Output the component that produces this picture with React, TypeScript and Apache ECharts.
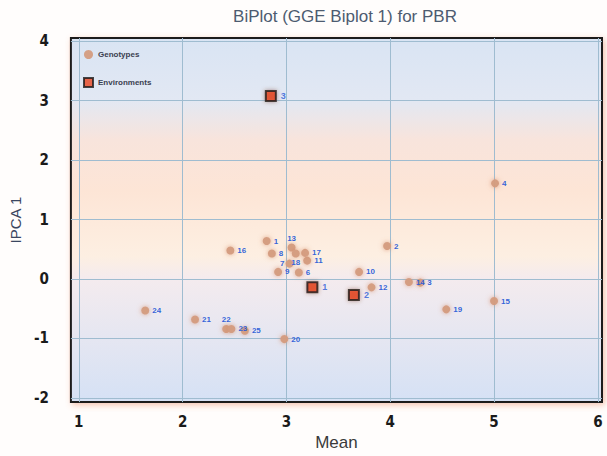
import React, { useEffect, useRef } from "react";
import * as echarts from "echarts";

const titleText = "BiPlot (GGE Biplot 1) for PBR";
const xName = "Mean";
const yName = "IPCA 1";

const xTicks = [1, 2, 3, 4, 5, 6];
const yTicks = [-2, -1, 0, 1, 2, 3, 4];

const genotypeNames = ["1", "2", "3", "4", "6", "7", "8", "9", "10", "11", "12", "13", "14", "15", "16", "17", "18", "19", "20", "21", "22", "23", "24", "25"];
const genotypeMean = [2.81, 3.97, 4.29, 5.01, 3.12, 3.03, 2.86, 2.92, 3.7, 3.2, 3.82, 3.05, 4.18, 5.0, 2.46, 3.18, 3.09, 4.54, 2.98, 2.12, 2.42, 2.47, 1.64, 2.6];
const genotypeIPCA = [0.64, 0.555, -0.06, 1.61, 0.11, 0.26, 0.43, 0.12, 0.12, 0.31, -0.14, 0.53, -0.05, -0.37, 0.48, 0.44, 0.43, -0.51, -1.01, -0.68, -0.84, -0.84, -0.53, -0.87];

const envNames = ["1", "2", "3"];
const envMean = [3.25, 3.65, 2.85];
const envIPCA = [-0.14, -0.27, 3.08];

// labels that would otherwise collide are nudged
const labelNudge: Record<string, string> = { "18": "bottom", "22": "top", "13": "top", "7": "left" };

const FONT = "'Liberation Sans', Arial, sans-serif";
const NARROW = "'Liberation Sans Narrow', 'DejaVu Sans Condensed', Arial, sans-serif";

export default function App() {
  const ref = useRef<HTMLDivElement>(null);
  useEffect(() => {
    if (!ref.current) return;
    const chart = echarts.init(ref.current, null, { renderer: "svg" });
    const genoData = genotypeNames.map((n, i) => {
      const item: any = { value: [genotypeMean[i], genotypeIPCA[i], n] };
      if (labelNudge[n]) item.label = { position: labelNudge[n], distance: 1 };
      return item;
    });
    const envData = envNames.map((n, i) => [envMean[i], envIPCA[i], n]);
    chart.setOption({
      animation: false,
      backgroundColor: "#fffdfc",
      title: {
        text: titleText,
        left: 340,
        textAlign: "center",
        top: 3,
        textStyle: { fontFamily: FONT, fontSize: 17, fontWeight: "normal", color: "#4d5b70" },
      },
      legend: {
        orient: "vertical",
        left: 78,
        top: 45,
        itemWidth: 9,
        itemHeight: 9,
        itemGap: 18,
        textStyle: { fontFamily: FONT, fontSize: 8, color: "#3a4050", fontWeight: "bold" },
        data: [
          { name: "Genotypes", icon: "circle" },
          { name: "Environments", icon: "rect" },
        ],
      },
      grid: {
        left: 68,
        right: 5,
        top: 38,
        bottom: 51,
        show: true,
        borderColor: "#1e1e1e",
        borderWidth: 2,
        shadowBlur: 6,
        shadowColor: "rgba(230,120,80,0.45)",
        shadowOffsetX: 2,
        shadowOffsetY: 2,
        backgroundColor: new echarts.graphic.LinearGradient(0, 0, 0, 1, [
          { offset: 0, color: "#d9e4f3" },
          { offset: 0.17, color: "#e2e8f3" },
          { offset: 0.28, color: "#f8e4dc" },
          { offset: 0.42, color: "#fde5d6" },
          { offset: 0.6, color: "#fdefe2" },
          { offset: 0.66, color: "#f4ebee" },
          { offset: 1, color: "#d5e1f5" },
        ]),
      },
      xAxis: {
        type: "value",
        min: 0.924,
        max: 6.04,
        name: xName,
        nameLocation: "middle",
        nameGap: 30,
        nameTextStyle: { fontFamily: FONT, fontSize: 17, color: "#3a3a3a" },
        axisLine: { show: false },
        axisTick: { show: false, customValues: xTicks },
        axisLabel: {
          customValues: xTicks,
          margin: 12,
          fontFamily: NARROW,
          fontSize: 15,
          fontWeight: "bold",
          color: "#1a1a1a",
        },
        splitLine: { show: true, lineStyle: { color: "#9fbcd0", width: 1 } },
      },
      yAxis: {
        type: "value",
        min: -2.07,
        max: 4.055,
        name: yName,
        nameLocation: "middle",
        nameGap: 36,
        nameTextStyle: { fontFamily: FONT, fontSize: 15, color: "#3a4660" },
        axisLine: { show: false },
        axisTick: { show: false, customValues: yTicks },
        axisLabel: {
          customValues: yTicks,
          margin: 22,
          fontFamily: NARROW,
          fontSize: 15,
          fontWeight: "bold",
          color: "#1a1a1a",
        },
        splitLine: { show: true, lineStyle: { color: "#9fbcd0", width: 1 } },
      },
      series: [
        {
          name: "Genotypes",
          type: "scatter",
          symbol: "circle",
          symbolSize: 8,
          data: genoData,
          itemStyle: {
            color: "#d49c80",
            opacity: 0.95,
            shadowBlur: 5,
            shadowColor: "rgba(210,130,90,0.7)",
          },
          label: {
            show: true,
            position: "right",
            distance: 3,
            formatter: (p: any) => p.data.value[2],
            fontFamily: FONT,
            fontSize: 8,
            fontWeight: "bold",
            color: "#2a5bd7",
          },
          z: 3,
        },
        {
          name: "Environments",
          type: "scatter",
          symbol: "rect",
          symbolSize: 10,
          data: envData,
          itemStyle: {
            color: "#e8441e",
            borderColor: "#1a1a1a",
            borderWidth: 2,
            shadowBlur: 4,
            shadowColor: "rgba(120,60,40,0.6)",
          },
          label: {
            show: true,
            position: "right",
            distance: 4,
            formatter: (p: any) => p.data[2],
            fontFamily: FONT,
            fontSize: 9,
            fontWeight: "bold",
            color: "#2a5bd7",
          },
          z: 4,
        },
      ],
    });
    return () => chart.dispose();
  }, []);
  return <div ref={ref} style={{ width: 607, height: 456, position: "absolute", left: 0, top: 0 }} />;
}
